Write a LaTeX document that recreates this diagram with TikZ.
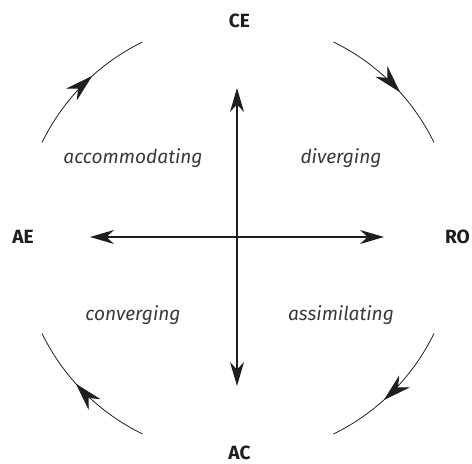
\documentclass[tikz,border=0pt]{standalone}
\usepackage{fontspec}
\setmainfont{Fira Sans}
\usepackage{xcolor}
\usepackage{tikz}
\usetikzlibrary{arrows.meta,decorations.markings}
\definecolor{inkdark}{HTML}{1E1E1E}
\definecolor{inkgrey}{HTML}{3A3A3A}

\begin{document}
\begin{tikzpicture}[x=0.5bp,y=0.5bp,
  pole/.style={font=\fontsize{9.6}{11}\selectfont\bfseries,text=inkdark,inner sep=0pt},
  lstyle/.style={font=\fontsize{9.6}{12}\selectfont\itshape,text=inkgrey,inner sep=0pt},
  ax/.style={{Stealth[length=12bp,width=7bp,inset=3.8bp]}-{Stealth[length=12bp,width=7bp,inset=3.8bp]},draw=inkdark,line width=0.65bp},
  cyc/.style={draw=inkdark,line width=0.4bp,postaction={decorate},
    decoration={markings,mark=at position 0.58 with {\arrow{Stealth[length=14bp,width=8bp,inset=4.5bp]}}}}]
\useasboundingbox (-238,-226) rectangle (234,238);
% the four poles
\node[pole] (ce) at (1.5,217) {CE};
\node[pole] (ac) at (1.5,-215) {AC};
\node[pole] (ae) at (-215,1) {AE};
\node[pole] (ro) at (219.5,1) {RO};
% the four learning styles
\node[lstyle] (acc) at (-105,80) {accommodating};
\node[lstyle] (div) at (103,80) {diverging};
\node[lstyle] (con) at (-105,-77) {converging};
\node[lstyle] (ass) at (103,-77) {assimilating};
% axes
\coordinate (top) at (-1,150);
\coordinate (bot) at (-1,-148);
\coordinate (lft) at (-148,1);
\coordinate (rgt) at (146,1);
\draw[ax] (bot)--(top);
\draw[ax] (lft)--(rgt);
% the cycle
\coordinate (tl) at (154:218);
\coordinate (tr) at (64:218);
\coordinate (br) at (-26:218);
\coordinate (bl) at (244:218);
\draw[cyc] (tl) arc[start angle=154,end angle=116,radius=218];
\draw[cyc] (tr) arc[start angle=64,end angle=26,radius=218];
\draw[cyc] (br) arc[start angle=-26,end angle=-64,radius=218];
\draw[cyc] (bl) arc[start angle=244,end angle=206,radius=218];
\end{tikzpicture}
\end{document}
